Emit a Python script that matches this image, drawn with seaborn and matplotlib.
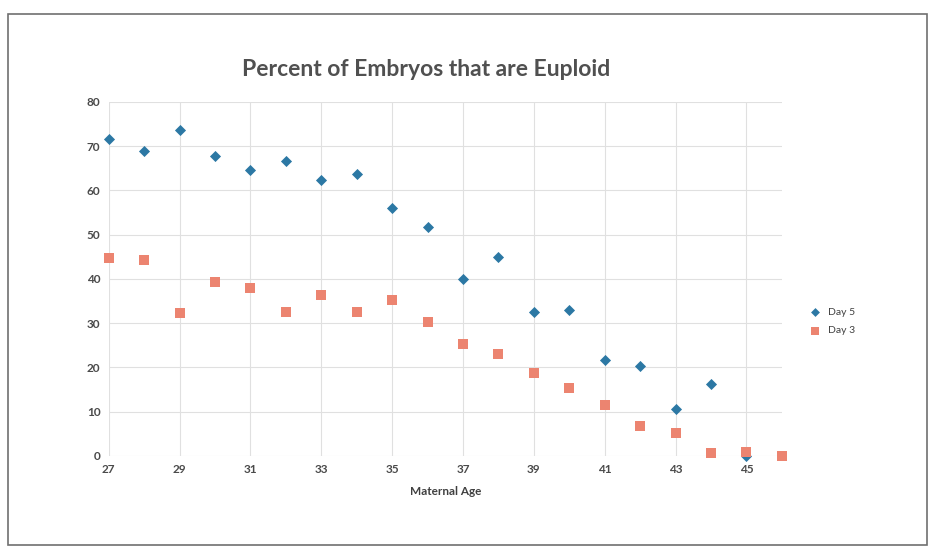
import numpy as np
import pandas as pd
import matplotlib
matplotlib.use("Agg")
import matplotlib.pyplot as plt
import seaborn as sns
from matplotlib.patches import Rectangle

ages_day5 = [27, 28, 29, 30, 31, 32, 33, 34, 35, 36, 37, 38, 39, 40, 41, 42, 43, 44, 45]
euploid_day5 = [71.6, 68.9, 73.6, 67.7, 64.6, 66.6, 62.4, 63.8, 56.1, 51.8,
                40.0, 44.9, 32.5, 32.9, 21.6, 20.4, 10.5, 16.2, 0.0]
ages_day3 = [27, 28, 29, 30, 31, 32, 33, 34, 35, 36, 37, 38, 39, 40, 41, 42, 43, 44, 45, 46]
euploid_day3 = [44.8, 44.3, 32.2, 39.3, 37.9, 32.5, 36.3, 32.5, 35.3, 30.2,
                25.2, 23.0, 18.7, 15.3, 11.5, 6.7, 5.2, 0.6, 1.0, 0.0]
x_ticks = [27, 29, 31, 33, 35, 37, 39, 41, 43, 45]
y_ticks = [0, 10, 20, 30, 40, 50, 60, 70, 80]

df = pd.concat([
    pd.DataFrame({"age": ages_day5, "pct": euploid_day5, "series": "Day 5"}),
    pd.DataFrame({"age": ages_day3, "pct": euploid_day3, "series": "Day 3"}),
])

sns.set_style("white")
plt.rcParams['font.family'] = ['Lato', 'DejaVu Sans']

fig = plt.figure(figsize=(9.33, 5.54), dpi=100)
ax = fig.add_axes([0.1166, 0.177, 0.7214, 0.639])

palette = {"Day 5": "#2c78a4", "Day 3": "#ec8470"}
markers = {"Day 5": "D", "Day 3": "s"}
sizes = {"Day 5": 32, "Day 3": 62}

for name in ["Day 5", "Day 3"]:
    sub = df[df.series == name]
    sns.scatterplot(data=sub, x="age", y="pct", color=palette[name], marker=markers[name],
                    s=sizes[name], linewidth=0, ax=ax, label=name, zorder=3, clip_on=False)

ax.set_xlim(27, 46)
ax.set_ylim(0, 80)
ax.set_xticks(x_ticks)
ax.set_yticks(y_ticks)
ax.grid(True, color="#e0e0e0", linewidth=0.8)
for s in ax.spines.values():
    s.set_visible(False)
ax.tick_params(axis="both", length=0, labelsize=8.5, labelcolor="#4a4a4a", pad=6)
for lbl in ax.get_xticklabels() + ax.get_yticklabels():
    lbl.set_fontweight("bold")
ax.set_xlabel("Maternal Age", fontsize=8.5, fontweight="bold", color="#404040", labelpad=8)
ax.set_ylabel("")

fig.text(0.457, 0.874, "Percent of Embryos that are Euploid", ha="center", va="center",
         fontsize=16.5, fontweight="bold", color="#505050")

leg = ax.legend(loc="center left", bbox_to_anchor=(1.02, 0.38), frameon=False,
                fontsize=7.5, handletextpad=0.2, labelspacing=0.9, markerscale=0.8)
for t in leg.get_texts():
    t.set_color("#404040")

fig.patches.append(Rectangle((0.009, 0.016), 0.985, 0.958, transform=fig.transFigure,
                             fill=False, edgecolor="#707070", linewidth=1.2))

fig.savefig("out.png", dpi=100)
